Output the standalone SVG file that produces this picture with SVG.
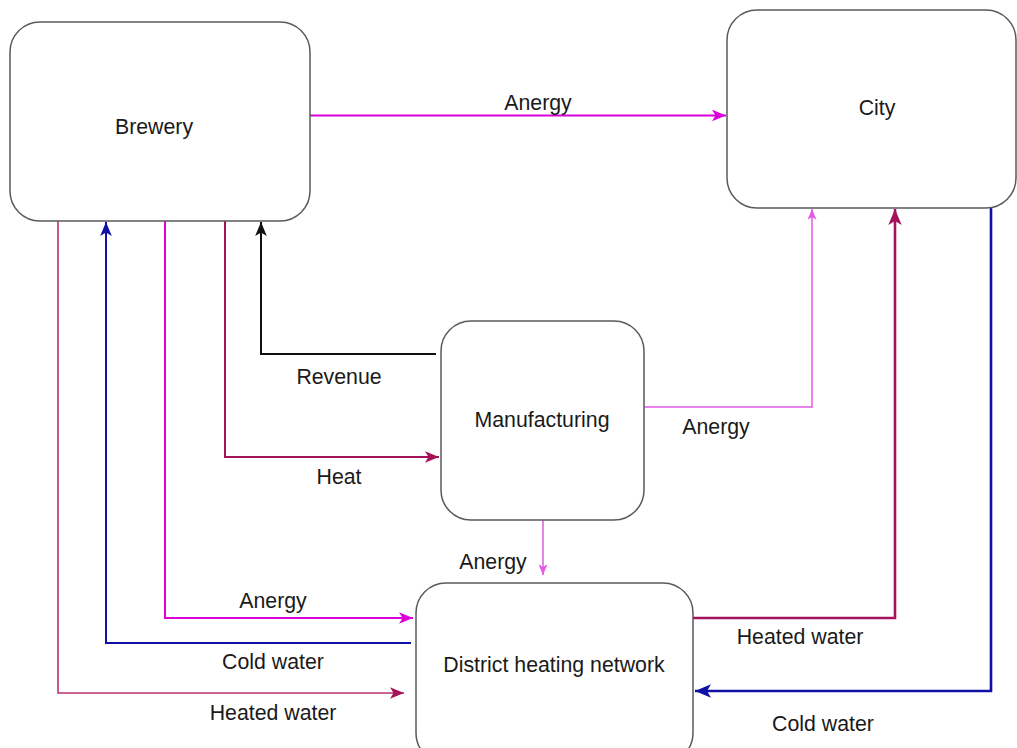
<svg xmlns="http://www.w3.org/2000/svg" width="1017" height="748" viewBox="0 0 1017 748">
  <style>
    .node rect { fill: #ffffff; stroke: #5a5a5a; stroke-width: 1.5; }
    text { font-family: "Liberation Sans", Arial, sans-serif; font-size: 21.3px; fill: #1a1a1a; text-anchor: middle; dominant-baseline: central; }
    .edge { fill: none; stroke-linejoin: miter; }
    .magenta { stroke: #dc00dc; stroke-width: 2; }
    .pink { stroke: #e25ae6; stroke-width: 1.5; }
    .crimson { stroke: #a3125a; stroke-width: 2; }
    .crimson-soft { stroke: #b8336f; stroke-width: 1.6; }
    .blue { stroke: #1010a6; stroke-width: 2; }
    .black { stroke: #111111; stroke-width: 2; }
    .thick { stroke-width: 2.6; }
  </style>
  <defs>
    <marker id="arrow-magenta" viewBox="0 0 12 10" refX="12" refY="5" markerWidth="14" markerHeight="12" markerUnits="userSpaceOnUse" orient="auto">
      <path d="M0,0 L12,5 L0,10 L3,5 Z" fill="#dc00dc"/>
    </marker>
    <marker id="arrow-pink" viewBox="0 0 12 10" refX="12" refY="5" markerWidth="11" markerHeight="9" markerUnits="userSpaceOnUse" orient="auto">
      <path d="M0,0 L12,5 L0,10 L3,5 Z" fill="#e25ae6"/>
    </marker>
    <marker id="arrow-crimson" viewBox="0 0 12 10" refX="12" refY="5" markerWidth="14" markerHeight="12" markerUnits="userSpaceOnUse" orient="auto">
      <path d="M0,0 L12,5 L0,10 L3,5 Z" fill="#a3125a"/>
    </marker>
    <marker id="arrow-crimson-big" viewBox="0 0 12 10" refX="12" refY="5" markerWidth="16" markerHeight="14" markerUnits="userSpaceOnUse" orient="auto">
      <path d="M0,0 L12,5 L0,10 L3,5 Z" fill="#a3125a"/>
    </marker>
    <marker id="arrow-blue" viewBox="0 0 12 10" refX="12" refY="5" markerWidth="14" markerHeight="12" markerUnits="userSpaceOnUse" orient="auto">
      <path d="M0,0 L12,5 L0,10 L3,5 Z" fill="#1010a6"/>
    </marker>
    <marker id="arrow-blue-big" viewBox="0 0 12 10" refX="12" refY="5" markerWidth="16" markerHeight="14" markerUnits="userSpaceOnUse" orient="auto">
      <path d="M0,0 L12,5 L0,10 L3,5 Z" fill="#1010a6"/>
    </marker>
    <marker id="arrow-black" viewBox="0 0 12 10" refX="12" refY="5" markerWidth="14" markerHeight="12" markerUnits="userSpaceOnUse" orient="auto">
      <path d="M0,0 L12,5 L0,10 L3,5 Z" fill="#111111"/>
    </marker>
  </defs>

  <rect width="1017" height="748" fill="#ffffff"/>

  <!-- flows between the nodes -->
  <g id="connectors">
    <path class="edge magenta" d="M310,115.5 H726" marker-end="url(#arrow-magenta)"/>
    <path class="edge black" d="M436,354 H261 V222" marker-end="url(#arrow-black)"/>
    <path class="edge crimson" d="M225,221 V457 H439" marker-end="url(#arrow-crimson)"/>
    <path class="edge pink" d="M640,407 H812 V209" marker-end="url(#arrow-pink)"/>
    <path class="edge pink" d="M543,520 V575" marker-end="url(#arrow-pink)"/>
    <path class="edge magenta" d="M165,221 V618 H413" marker-end="url(#arrow-magenta)"/>
    <path class="edge blue" d="M411,643 H106 V222" marker-end="url(#arrow-blue)"/>
    <path class="edge crimson-soft" d="M58,221 V693 H404" marker-end="url(#arrow-crimson)"/>
    <path class="edge crimson thick" d="M693,618 H895 V209" marker-end="url(#arrow-crimson-big)"/>
    <path class="edge blue thick" d="M991,208 V691 H695" marker-end="url(#arrow-blue-big)"/>

    <text x="538" y="103">Anergy</text>
    <text x="339" y="377">Revenue</text>
    <text x="339" y="477">Heat</text>
    <text x="716" y="427">Anergy</text>
    <text x="493" y="562">Anergy</text>
    <text x="273" y="601">Anergy</text>
    <text x="273" y="662">Cold water</text>
    <text x="273" y="713">Heated water</text>
    <text x="800" y="637">Heated water</text>
    <text x="823" y="724">Cold water</text>
  </g>

  <g id="brewery" class="node">
    <rect x="10" y="22" width="300" height="199" rx="30" ry="30"/>
    <text x="154" y="127">Brewery</text>
  </g>

  <g id="city" class="node">
    <rect x="727" y="10" width="289" height="198" rx="30" ry="30"/>
    <text x="877" y="108">City</text>
  </g>

  <g id="manufacturing" class="node">
    <rect x="441" y="321" width="203" height="199" rx="30" ry="30"/>
    <text x="542" y="420">Manufacturing</text>
  </g>

  <g id="district-heating" class="node">
    <rect x="416" y="583" width="277" height="180" rx="30" ry="30"/>
    <text x="554" y="665">District heating network</text>
  </g>
</svg>
